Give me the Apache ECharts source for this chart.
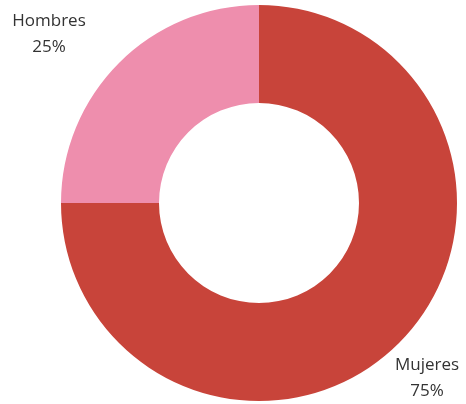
<!DOCTYPE html>
<html><head><meta charset="utf-8">
<style>html,body{margin:0;padding:0;background:#fff}#c{width:466px;height:404px}</style>
<script src="https://cdn.jsdelivr.net/npm/echarts@6/dist/echarts.min.js"></script>
</head><body><div id="c"></div>
<script>
const categories = ['Mujeres', 'Hombres'];
const values = [75, 25];
const colors = ['#C8443A', '#EE8EAD'];
const labelPos = { 'Mujeres': [427, 378], 'Hombres': [49, 34] };

const chart = echarts.init(document.getElementById('c'), null, {renderer: 'canvas'});
chart.setOption({
  animation: false,
  series: [{
    type: 'pie',
    center: [259, 203],
    radius: [100, 198],
    startAngle: 90,
    clockwise: true,
    data: categories.map((n, i) => ({ name: n, value: values[i], itemStyle: { color: colors[i] } })),
    label: {
      show: true,
      position: 'outside',
      formatter: p => p.name + '\n' + p.value + '%',
      color: '#333',
      fontSize: 17,
      lineHeight: 26,
      fontFamily: '"Open Sans", sans-serif',
      overflow: 'none',
      width: 120,
      align: 'center',
      verticalAlign: 'middle'
    },
    labelLine: { show: false },
    labelLayout: function (params) {
      const n = categories[params.dataIndex];
      return { x: labelPos[n][0], y: labelPos[n][1], align: 'center', verticalAlign: 'middle' };
    },
    emphasis: { disabled: true }
  }]
});
</script></body></html>
